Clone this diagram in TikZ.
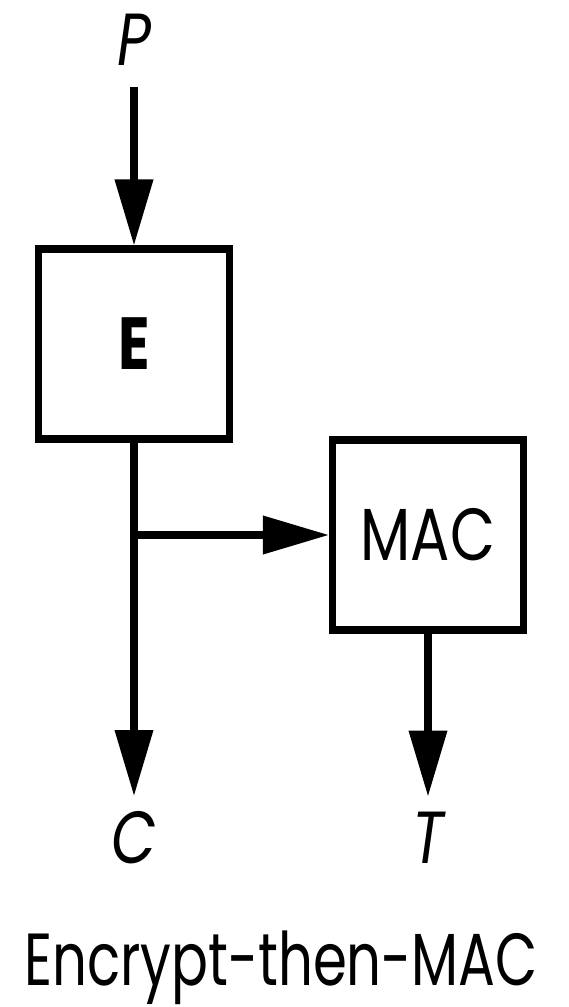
\documentclass[tikz,border=0pt]{standalone}
\usepackage{fontspec}
\setmainfont{Poppins}[FakeStretch=0.79]
\newfontfamily\captionfont{Poppins}[FakeStretch=0.74]
\usetikzlibrary{arrows.meta,positioning,calc}

\begin{document}
\begin{tikzpicture}[
    blockbox/.style={
        draw=black,
        line width=2pt,
        minimum width=1.91cm,
        minimum height=1.90cm,
        font=\fontsize{21}{25}\selectfont
    },
    iolabel/.style={
        font=\fontsize{21}{25}\selectfont\itshape,
        inner sep=0.15cm
    },
    arrow/.style={
        -{Triangle[length=0.66cm,width=0.37cm]},
        line width=2pt
    }
]
    \useasboundingbox (0,0) rectangle (5.69,-10.07);

    \node[blockbox, font=\fontsize{21}{25}\selectfont\bfseries] (enc) at (1.34, -3.44) {E};
    \node[blockbox] (mac) at (4.28, -5.35) {MAC};
    \node[iolabel, inner sep=0.21cm] (ptxt) at (1.34, -0.40) {P};
    \node[iolabel] (ctxt) at (1.34, -8.38) {C};
    \node[iolabel] (tag) at (4.28, -8.38) {T};
    \node[font=\fontsize{21}{25}\captionfont, anchor=base] (title) at (2.81, -9.85) {Encrypt-then-MAC};

    \coordinate (split) at (enc.south |- mac.west);

    \draw[arrow] (ptxt) -- (enc);
    \draw[arrow] (enc) -- (ctxt);
    \draw[arrow] (split) -- (mac);
    \draw[arrow] (mac) -- (tag);
\end{tikzpicture}
\end{document}
